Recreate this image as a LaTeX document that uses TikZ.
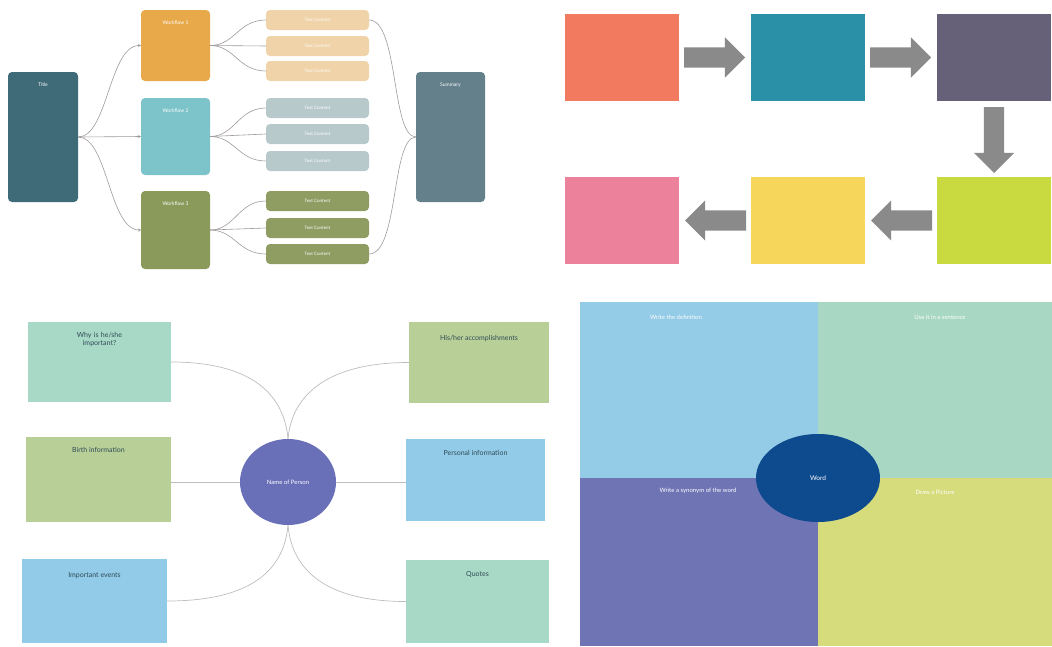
\documentclass[tikz,border=0pt]{standalone}
\usepackage{fontspec}
\setmainfont{Lato}
\usetikzlibrary{shapes.geometric,shapes.arrows,arrows.meta,calc}
\definecolor{cTitle}{HTML}{3F6B78}
\definecolor{cSum}{HTML}{64808A}
\definecolor{cWA}{HTML}{E8A94A}
\definecolor{cWB}{HTML}{7CC4C9}
\definecolor{cWC}{HTML}{8A9A5A}
\definecolor{cTA}{HTML}{F0D3A8}
\definecolor{cTB}{HTML}{B8C9CC}
\definecolor{cTC}{HTML}{8F9C62}
\definecolor{cLine}{HTML}{A09A9A}
\definecolor{pOr}{HTML}{F27A5E}
\definecolor{pTe}{HTML}{2A90A8}
\definecolor{pPu}{HTML}{666078}
\definecolor{pPk}{HTML}{EC819C}
\definecolor{pYe}{HTML}{F6D75C}
\definecolor{pLi}{HTML}{C9D940}
\definecolor{pAr}{HTML}{8A8A8A}
\definecolor{mMint}{HTML}{A8D8C6}
\definecolor{mGreen}{HTML}{B8D098}
\definecolor{mBlue}{HTML}{92CBE8}
\definecolor{mEll}{HTML}{6A70B8}
\definecolor{mLine}{HTML}{BDBDBD}
\definecolor{mText}{HTML}{2F4A55}
\definecolor{qBlue}{HTML}{94CBE6}
\definecolor{qMint}{HTML}{A8D8C4}
\definecolor{qPurple}{HTML}{6E74B4}
\definecolor{qYellow}{HTML}{D6DC7C}
\definecolor{qWord}{HTML}{0E4A8E}
\tikzset{
  box/.style={anchor=north west,inner sep=0pt,outer sep=0pt,draw=none},
  rbox/.style={box,rounded corners=4pt},
  toplbl/.style={anchor=north,text=white,font=\fontsize{5}{6}\selectfont},
  tcont/.style={rbox,minimum width=103pt,minimum height=20pt,text=white,font=\fontsize{4.5}{5}\selectfont,anchor=west},
  flow/.style={draw=cLine,line width=0.6pt},
  flowarr/.style={flow,-{Stealth[length=3pt,width=3pt]}},
  pbox/.style={box,minimum width=114pt,minimum height=87pt},
  barrow/.style={single arrow,anchor=tail,fill=pAr,draw=none,minimum height=61pt,minimum width=40pt,inner sep=10pt,single arrow head extend=10pt,outer sep=0pt},
  mbox/.style={box},
  mlbl/.style={anchor=north,text=mText,font=\fontsize{7}{8}\selectfont,align=center},
  mline/.style={draw=mLine,line width=0.7pt},
  qlbl/.style={text=white,font=\fontsize{6}{7}\selectfont}
}
\begin{document}
\begin{tikzpicture}[x=1pt,y=-1pt]
\useasboundingbox (0,0) rectangle (1052,646);
% ---------------- top-left: workflow ----------------
\node[rbox,fill=cTitle,minimum width=70pt,minimum height=130pt,label={[toplbl,yshift=-7pt]north:Title}] (title) at (8,72) {};
\node[rbox,fill=cSum,minimum width=69pt,minimum height=130pt,label={[toplbl,yshift=-7pt]north:Summary}] (sum) at (416,72) {};
\node[rbox,fill=cWA,minimum width=69pt,minimum height=71pt,label={[toplbl,yshift=-7pt]north:Workflow 1}] (wa) at (141,10) {};
\node[rbox,fill=cWB,minimum width=69pt,minimum height=77pt,label={[toplbl,yshift=-7pt]north:Workflow 2}] (wb) at (141,98) {};
\node[rbox,fill=cWC,minimum width=69pt,minimum height=78pt,label={[toplbl,yshift=-7pt]north:Workflow 3}] (wc) at (141,191) {};
\node[tcont,fill=cTA] (ta1) at (266,20) {Text Content};
\node[tcont,fill=cTA] (ta2) at (266,46) {Text Content};
\node[tcont,fill=cTA] (ta3) at (266,71) {Text Content};
\node[tcont,fill=cTB] (tb1) at (266,108) {Text Content};
\node[tcont,fill=cTB] (tb2) at (266,134) {Text Content};
\node[tcont,fill=cTB] (tb3) at (266,161) {Text Content};
\node[tcont,fill=cTC] (tc1) at (266,201) {Text Content};
\node[tcont,fill=cTC] (tc2) at (266,228) {Text Content};
\node[tcont,fill=cTC] (tc3) at (266,254) {Text Content};
% title -> workflows
\draw[flowarr] (title.east) .. controls ($(title.east)+(30,0)$) and ($(wa.west)+(-32,0)$) .. (wa.west);
\draw[flowarr] (title.east) -- (wb.west);
\draw[flowarr] (title.east) .. controls ($(title.east)+(30,0)$) and ($(wc.west)+(-32,0)$) .. (wc.west);
% workflows -> text contents
\foreach \w/\a/\b/\c in {wa/ta1/ta2/ta3, wb/tb1/tb2/tb3, wc/tc1/tc2/tc3}{
  \draw[flow] (\w.east) .. controls ($(\w.east)+(25,0)$) and ($(\a.west)+(-28,0)$) .. (\a.west);
  \draw[flow] (\w.east) -- (\b.west);
  \draw[flow] (\w.east) .. controls ($(\w.east)+(25,0)$) and ($(\c.west)+(-28,0)$) .. (\c.west);
}
% text contents -> summary
\draw[flow] (ta1.east) .. controls ($(ta1.east)+(30,0)$) and ($(sum.west)+(-25,0)$) .. (sum.west);
\draw[flow] (tc3.east) .. controls ($(tc3.east)+(30,0)$) and ($(sum.west)+(-25,0)$) .. (sum.west);
% ---------------- top-right: process ----------------
\node[pbox,fill=pOr] (p1) at (565,14) {};
\node[pbox,fill=pTe] (p2) at (751,14) {};
\node[pbox,fill=pPu] (p3) at (937,14) {};
\node[pbox,fill=pLi] (p4) at (937,177) {};
\node[pbox,fill=pYe] (p5) at (751,177) {};
\node[pbox,fill=pPk] (p6) at (565,177) {};
\node[barrow] (a12) at ($(p1.east)+(5,0)$) {};
\node[barrow] (a23) at ($(p2.east)+(5,0)$) {};
\node[barrow,shape border rotate=270,minimum height=66pt] (a34) at ($(p3.south)+(0,6)$) {};
\node[barrow,shape border rotate=180] (a45) at ($(p4.west)+(-5,0)$) {};
\node[barrow,shape border rotate=180] (a56) at ($(p5.west)+(-5,0)$) {};
% ---------------- bottom-left: person map ----------------
\node[mbox,fill=mMint,minimum width=143pt,minimum height=80pt,label={[mlbl,yshift=-7pt,text width=80pt]north:Why is he/she\\important?}] (l1) at (28,322) {};
\node[mbox,fill=mGreen,minimum width=145pt,minimum height=85pt,label={[mlbl,yshift=-7pt]north:Birth information}] (l2) at (26,437) {};
\node[mbox,fill=mBlue,minimum width=145pt,minimum height=84pt,label={[mlbl,yshift=-10pt]north:Important events}] (l3) at (22,559) {};
\node[mbox,fill=mGreen,minimum width=140pt,minimum height=81pt,label={[mlbl,yshift=-10pt]north:His/her accomplishments}] (r1) at (409,322) {};
\node[mbox,fill=mBlue,minimum width=139pt,minimum height=82pt,label={[mlbl,yshift=-8pt]north:Personal information}] (r2) at (406,439) {};
\node[mbox,fill=mMint,minimum width=143pt,minimum height=83pt,label={[mlbl,yshift=-8pt]north:Quotes}] (r3) at (406,560) {};
\node[ellipse,fill=mEll,minimum width=96pt,minimum height=86pt,inner sep=0pt,text=white,font=\fontsize{6}{7}\selectfont] (per) at (288,482) {Name of Person};
\draw[mline] (l1.east) .. controls ($(l1.east)+(80,0)$) and ($(per.north)+(-4,-45)$) .. (per.north);
\draw[mline] (r1.west) .. controls ($(r1.west)+(-80,0)$) and ($(per.north)+(4,-45)$) .. (per.north);
\draw[mline] (per.west) -- (per.west -| l2.east);
\draw[mline] (per.east) -- (per.east -| r2.west);
\draw[mline] (l3.east) .. controls ($(l3.east)+(84,0)$) and ($(per.south)+(-4,45)$) .. (per.south);
\draw[mline] (r3.west) .. controls ($(r3.west)+(-80,0)$) and ($(per.south)+(4,45)$) .. (per.south);
% ---------------- bottom-right: word map ----------------
\node[box,fill=qBlue,minimum width=238pt,minimum height=176pt] (q1) at (580,302) {};
\node[box,fill=qMint,minimum width=234pt,minimum height=176pt] (q2) at (818,302) {};
\node[box,fill=qPurple,minimum width=238pt,minimum height=168pt] (q3) at (580,478) {};
\node[box,fill=qYellow,minimum width=234pt,minimum height=168pt] (q4) at (818,478) {};
\node[qlbl] (t1) at (676,317) {Write the definition};
\node[qlbl] (t2) at (940,317) {Use it in a sentence};
\node[qlbl] (t3) at (698,491) {Write a synonym of the word};
\node[qlbl] (t4) at (935,492) {Draw a Picture};
\node[ellipse,fill=qWord,minimum width=124pt,minimum height=88pt,inner sep=0pt,text=white,font=\fontsize{6.5}{7}\selectfont] (word) at (818,478) {Word};
\end{tikzpicture}
\end{document}
